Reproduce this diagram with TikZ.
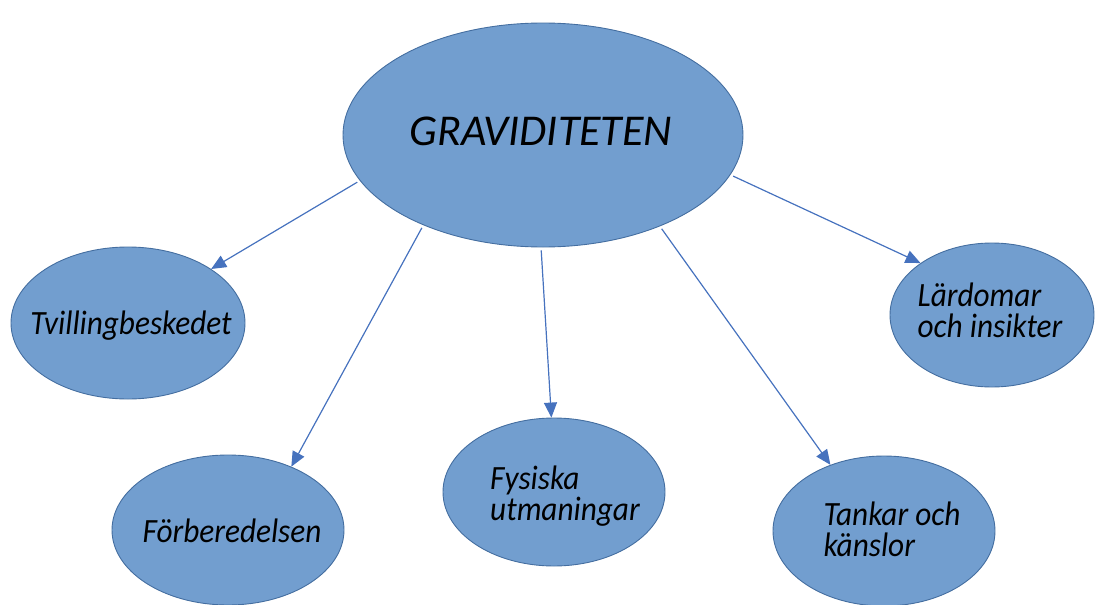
\documentclass[tikz,border=0pt]{standalone}
\usepackage{fontspec}
\setmainfont{Carlito}
\newfontfamily\lblfont[FakeStretch=0.92]{Carlito}
\usetikzlibrary{shapes.geometric,arrows.meta}
\definecolor{bubblefill}{RGB}{114,158,207}
\definecolor{bubbleline}{RGB}{68,110,160}
\definecolor{arrowcol}{RGB}{70,114,190}
\tikzset{
  bubble/.style={ellipse, draw=bubbleline, line width=0.9pt, fill=bubblefill, inner sep=0pt},
  lbl/.style={inner sep=0pt, align=left, font=\lblfont\itshape\fontsize{34}{31}\selectfont},
  biglbl/.style={inner sep=0pt, font=\itshape\fontsize{44}{48}\selectfont},
  conn/.style={draw=arrowcol, line width=1.2pt, -{Triangle[length=15pt,width=13pt]}, shorten <=3pt}
}
\begin{document}
\begin{tikzpicture}[x=1pt,y=-1pt]
\useasboundingbox (0,0) rectangle (1096,605);
\node[bubble, minimum width=400pt, minimum height=224pt] (g) at (543,135) {};
\node[bubble, minimum width=234pt, minimum height=152pt] (t) at (128,323) {};
\node[bubble, minimum width=232pt, minimum height=150pt] (f) at (228,530) {};
\node[bubble, minimum width=222pt, minimum height=148pt] (u) at (554,492) {};
\node[bubble, minimum width=222pt, minimum height=150pt] (k) at (884,531) {};
\node[bubble, minimum width=204pt, minimum height=144pt] (l) at (992,315) {};
\node[biglbl] (gt) at (541,131.5) {GRAVIDITETEN};
\node[lbl] (tt) at (131,326) {Tvillingbeskedet};
\node[lbl] (ft) at (232,530.5) {Förberedelsen};
\node[lbl] (ut) at (565,496) {Fysiska\\utmaningar};
\node[lbl] (kt) at (892,529.5) {Tankar och\\känslor};
\node[lbl] (lt) at (990,310.5) {Lärdomar\\och insikter};
\draw[conn] (g.194) -- (t.33.7);
\draw[conn] (g.217.1) -- (f.45);
\draw[conn] (g.269.5) -- (u.92.3);
\draw[conn] (g.322.8) -- (k.129.9);
\draw[conn] (g.348.9) -- (l.144.8);
\end{tikzpicture}
\end{document}
